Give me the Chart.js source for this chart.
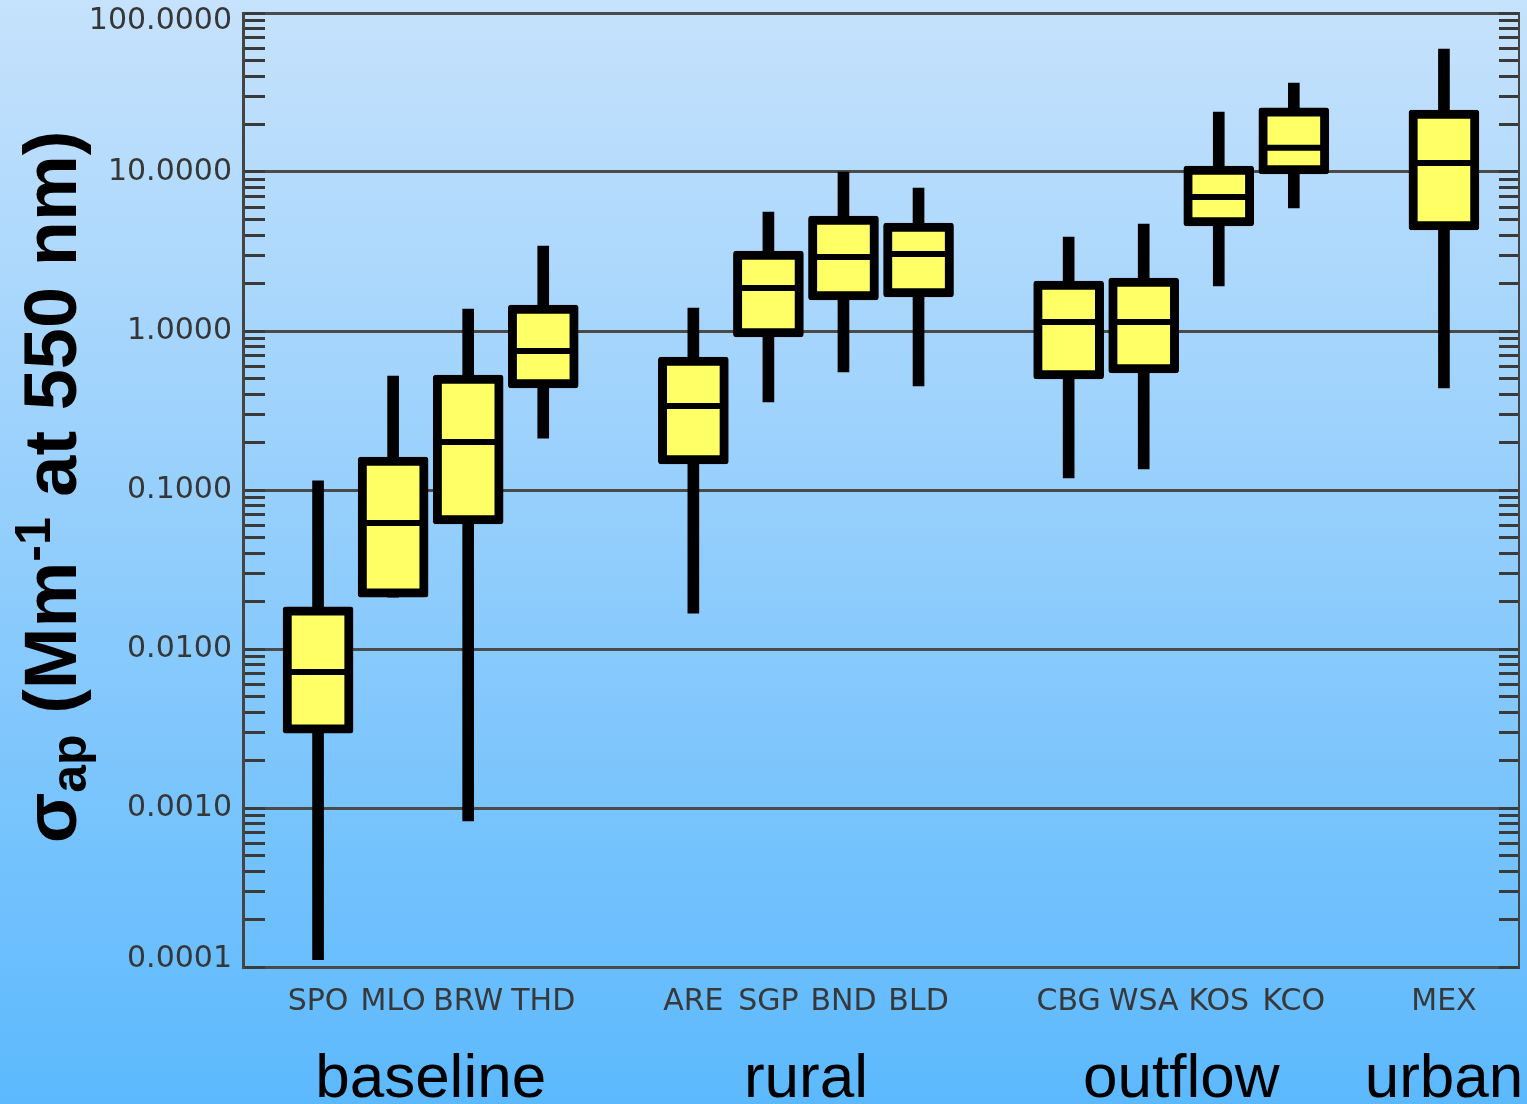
<!DOCTYPE html>
<html><head><meta charset="utf-8">
<script src="https://cdn.jsdelivr.net/npm/chart.js@4.4.1/dist/chart.umd.min.js"></script>
<style>html,body{margin:0;padding:0;overflow:hidden;background:#8ccbfd}#wrap{width:1527px;height:1104px}</style>
</head><body><div id="wrap"><canvas id="c" width="1527" height="1104"></canvas></div>
<script>
// ---- data ----
const stations = ['SPO','MLO','BRW','THD','ARE','SGP','BND','BLD','CBG','WSA','KOS','KCO','MEX'];
const stationGroups = ['baseline','baseline','baseline','baseline','rural','rural','rural','rural','outflow','outflow','outflow','outflow','urban'];
const groupNames = ['baseline','rural','outflow','urban'];
const whiskerLow  = [0.000111,0.0212,0.000828,0.212,0.0168,0.358,0.552,0.451,0.119,0.1355,1.92,5.94,0.438];
const q1          = [0.00296,0.0212,0.0611,0.438,0.146,0.917,1.567,1.64,0.499,0.544,4.58,9.71,4.32];
const median      = [0.00717,0.0620,0.2005,0.749,0.338,1.865,2.92,3.05,1.139,1.139,6.96,14.2,11.4];
const q3          = [0.0184,0.161,0.529,1.458,0.686,3.18,5.29,4.78,2.06,2.15,10.9,25.3,24.5];
const whiskerHigh = [0.114,0.521,1.375,3.42,1.395,5.6,10.0,7.93,3.90,4.71,23.8,36.3,59.4];
const yTickValues = [0.0001,0.001,0.01,0.1,1,10,100];
const yTickLabels = ['0.0001','0.0010','0.0100','0.1000','1.0000','10.0000','100.0000'];

// ---- build slots (empty slot between groups) ----
const labels = [''];
const slotOf = [];
stations.forEach((s,i)=>{
  if (i>0 && stationGroups[i]!==stationGroups[i-1]) labels.push('');
  slotOf.push(labels.length); labels.push(s);
});
labels.push('');
const slotData = arr => labels.map((l,k)=>{const i=slotOf.indexOf(k); return i<0?null:arr[i];});
const slotRange = (lo,hi) => labels.map((l,k)=>{const i=slotOf.indexOf(k); return i<0?null:[lo[i],hi[i]];});
const groupCenters = groupNames.map(g=>{
  const idx = slotOf.filter((s,i)=>stationGroups[i]===g);
  return (Math.min(...idx)+Math.max(...idx))/2;
});
const isMajor = v => yTickValues.some(t=>Math.abs(t-v)/t<1e-9);
const allTicks = [];
yTickValues.forEach((d,k)=>{
  allTicks.push(d);
  if (k<yTickValues.length-1) for (let m=2;m<=9;m++) allTicks.push(d*m);
});
const labelFor = v => {
  const k=yTickValues.findIndex(t=>Math.abs(t-v)/t<1e-9);
  if (k<0) return '';
  if (k===yTickValues.length-1) return ['', yTickLabels[k]];   // nudged inside the frame
  if (k===0) return [yTickLabels[k], ''];
  return yTickLabels[k];
};

const bgPlugin = {
  id:'bg',
  beforeDraw(chart){
    const {ctx,width,height}=chart;
    const g=ctx.createLinearGradient(0,0,0,height);
    g.addColorStop(0,'#c6e2fc'); g.addColorStop(1,'#5cb9fd');
    ctx.save(); ctx.fillStyle=g; ctx.fillRect(0,0,width,height); ctx.restore();
  }
};
const titlePlugin = {
  id:'ytitle',
  afterDraw(chart){
    const ctx=chart.ctx;
    const F=74, S=50;
    const parts=[
      {t:'σ',size:F,dy:0},
      {t:'ap',size:S,dy:10},
      {t:' (Mm',size:F,dy:0},
      {t:'-1',size:S,dy:-26},
      {t:' at 550 nm)',size:F,dy:0}
    ];
    ctx.save();
    let total=0;
    parts.forEach(p=>{ctx.font='bold '+p.size+'px "Liberation Sans", Arial, sans-serif'; p.w=ctx.measureText(p.t).width; total+=p.w;});
    ctx.translate(76,487); ctx.rotate(-Math.PI/2);
    ctx.fillStyle='#000'; ctx.textBaseline='alphabetic'; ctx.textAlign='left';
    let x=-total/2;
    parts.forEach(p=>{ctx.font='bold '+p.size+'px "Liberation Sans", Arial, sans-serif'; ctx.fillText(p.t,x,p.dy); x+=p.w;});
    ctx.restore();
  }
};

const yTicksBuilder = s => { s.ticks = allTicks.map(v=>({value:v})); };

new Chart(document.getElementById('c'), {
  type:'bar',
  data:{
    labels: labels,
    datasets:[
      {type:'bar', data: slotRange(whiskerLow, whiskerHigh), backgroundColor:'#000', borderWidth:0, barThickness:11, grouped:false, order:3},
      {type:'bar', data: slotRange(q1, q3), backgroundColor:'#ffff66', borderColor:'#000', borderWidth:9, borderSkipped:false, borderRadius:3, barThickness:70, grouped:false, order:2},
      {type:'line', data: slotData(median), showLine:false, pointStyle:'line', pointRadius:29, pointHoverRadius:29, pointBorderWidth:6, pointHoverBorderWidth:6, pointBorderColor:'#000', borderColor:'#000', order:1}
    ]
  },
  options:{
    responsive:false, animation:false, devicePixelRatio:1,
    layout:{autoPadding:false, padding:{top:13,left:0,right:0,bottom:0}},
    plugins:{legend:{display:false}, tooltip:{enabled:false}},
    events:[],
    scales:{
      x:{type:'category', offset:false, position:'bottom', weight:0,
        grid:{display:false, drawTicks:false, offset:false}, border:{display:false},
        ticks:{autoSkip:false, maxRotation:0, minRotation:0, padding:17, color:'#383838', font:{family:'DejaVu Sans', size:30}},
        afterFit(s){ s.height=60; s.paddingLeft=0; s.paddingRight=0; }
      },
      x2:{type:'linear', min:0, max:17, offset:false, position:'bottom', weight:1,
        grid:{display:false, drawTicks:false, offset:false}, border:{display:false},
        afterBuildTicks(s){ s.ticks = groupCenters.map(v=>({value:v})); },
        ticks:{autoSkip:false, maxRotation:0, minRotation:0, padding:16, color:'#000', font:{family:'Liberation Sans', size:62}, callback:(v,i)=>groupNames[i]},
        afterFit(s){ s.height=77; s.paddingLeft=0; s.paddingRight=0; }
      },
      y:{type:'logarithmic', position:'left', min:0.0001, max:100,
        afterBuildTicks: yTicksBuilder,
        ticks:{autoSkip:false, padding:33, color:'#363636', font:{family:'DejaVu Sans', size:30, lineHeight:0.55}, callback:v=>labelFor(v)},
        grid:{color:c=> (c.tick && isMajor(c.tick.value)) ? '#4a4a4a' : 'rgba(0,0,0,0)', lineWidth:3, tickLength:-22, tickColor:'#3a3a3a', tickWidth:3},
        border:{color:'#444', width:3},
        afterFit(s){ s.width=243; s.paddingTop=0; s.paddingBottom=0; }
      },
      y2:{type:'logarithmic', position:'right', min:0.0001, max:100,
        afterBuildTicks: yTicksBuilder,
        ticks:{display:false, autoSkip:false},
        grid:{drawOnChartArea:false, tickLength:-20, tickColor:'#3a3a3a', tickWidth:3},
        border:{color:'#444', width:2},
        afterFit(s){ s.width=8; s.paddingTop=0; s.paddingBottom=0; }
      }
    }
  },
  plugins:[bgPlugin, titlePlugin]
});
</script>
</body></html>
